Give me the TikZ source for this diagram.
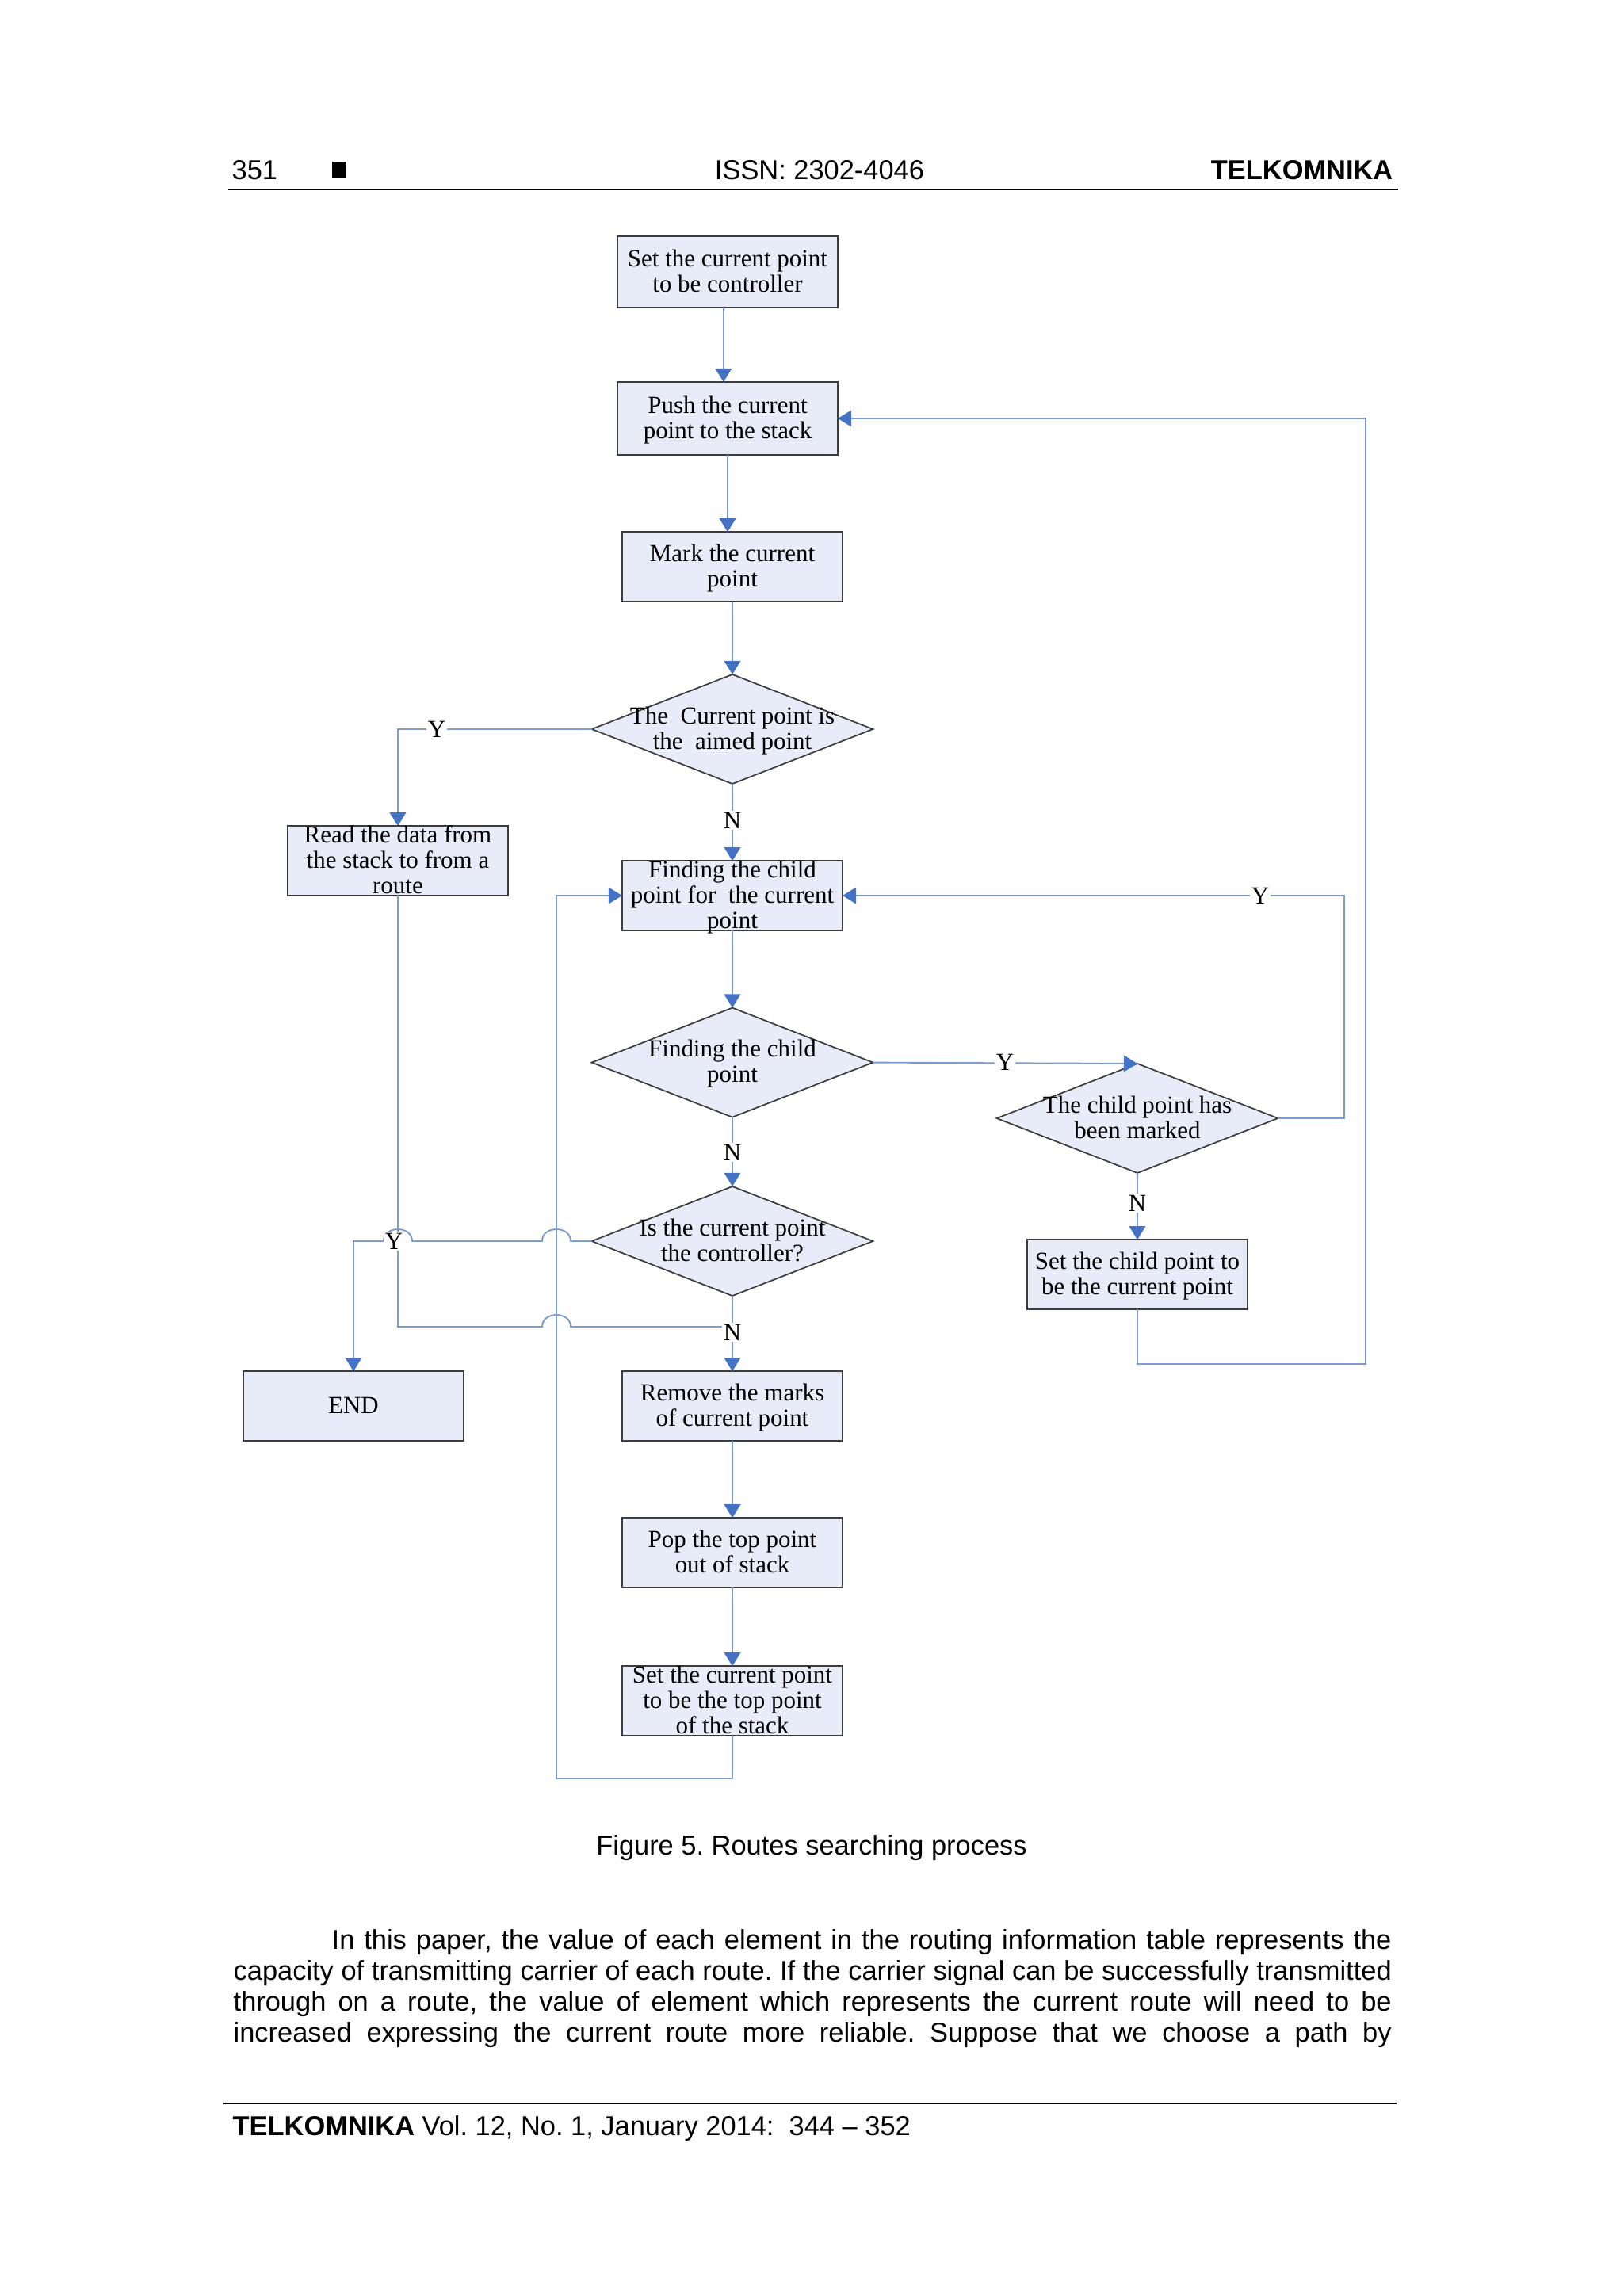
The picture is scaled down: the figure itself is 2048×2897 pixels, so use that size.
\documentclass[tikz,border=0pt]{standalone}
\usepackage{fontspec}
\setmainfont{Liberation Serif}
\newfontfamily\arialf{Liberation Sans}
\usetikzlibrary{shapes.geometric,arrows.meta}
\definecolor{lineblue}{RGB}{122,156,208}
\definecolor{tipblue}{RGB}{68,114,196}
\definecolor{boxfill}{RGB}{232,236,248}
\definecolor{boxdraw}{RGB}{60,60,60}
\newcommand{\ctext}[1]{\smash{\makebox[0pt]{\raisebox{-3.1pt}{\begin{tabular}[c]{@{}c@{}}#1\end{tabular}}}}}
\frenchspacing
\begin{document}
\begin{tikzpicture}[x=0.29053pt,y=-0.29053pt,
  box/.style={rectangle, draw=boxdraw, fill=boxfill, line width=0.6pt, minimum width=80.77pt, minimum height=25.4pt, inner sep=0pt, outer sep=0pt, font=\fontsize{9}{9.3}\selectfont},
  dia/.style={diamond, draw=boxdraw, fill=boxfill, line width=0.5pt, minimum width=103.1pt, minimum height=40.1pt, inner sep=0pt, outer sep=0pt, font=\fontsize{9}{9.3}\selectfont},
  conn/.style={draw=lineblue, line width=0.55pt},
  arr/.style={conn, -{Triangle[width=6pt,length=5pt,color=tipblue]}},
  lab/.style={fill=white, inner sep=0.6pt, font=\fontsize{9}{9.3}\selectfont},
  page/.style={font=\arialf\fontsize{10}{12}\selectfont, inner sep=0pt}
]
\useasboundingbox (0,0) rectangle (2048,2897);

% header
\node[page, anchor=base west] (pg) at (292,227) {351};
\fill (419,204) rectangle (437,224);
\node[page, anchor=base] (issn) at (1034,227) {ISSN: 2302-4046};
\node[page, anchor=base east, font=\arialf\bfseries\fontsize{10}{12}\selectfont] (jtop) at (1758,227) {TELKOMNIKA};
\draw[line width=0.6pt] (288,239) -- (1764,239);

% nodes
\node[box, minimum height=26.4pt] (b1) at (918,343) {\ctext{Set the current point\\to be controller}};
\node[box, minimum height=26.7pt] (b2) at (918,528) {\ctext{Push the current\\point to the stack}};
\node[box] (b3) at (924,715) {\ctext{Mark the current\\point}};
\node[dia] (d1) at (924,920) {\ctext{The\ \ Current point is\\the\ \ aimed point}};
\node[box] (rd) at (502,1086) {\ctext{Read the data from\\the stack to from a\\route}};
\node[box] (b4) at (924,1130) {\ctext{Finding the child\\point for\ \ the current\\point}};
\node[dia] (d2) at (924,1340.6) {\ctext{Finding the child\\point}};
\node[dia] (d3) at (1435,1411) {\ctext{The child point has\\been marked}};
\node[box] (ch) at (1435,1608) {\ctext{Set the child point to\\be the current point}};
\node[dia] (d4) at (924,1566) {\ctext{Is the current point\\the controller?}};
\node[box] (en) at (446,1774) {\ctext{END}};
\node[box] (rm) at (924,1774) {\ctext{Remove the marks\\of current point}};
\node[box] (pp) at (924,1959) {\ctext{Pop the top point\\out of stack}};
\node[box] (st) at (924,2146) {\ctext{Set the current point\\to be the top point\\of the stack}};

% connectors
\draw[arr] ([xshift=-1.5pt]b1.south) -- ([xshift=-1.5pt]b2.north);
\draw[arr] (b2.south) -- (b2.south |- b3.north);
\draw[arr] (b3.south) -- (d1.north);
\draw[arr] (d1.west) -| (rd.north);
\draw[arr] (d1.south) -- (b4.north);
\draw[arr] (b4.south) -- (d2.north);
\draw[arr] (d2.east) -- (d3.north);
\draw[arr] (d3.east) -| (1696,1130) -- (b4.east);
\draw[arr] (d3.south) -- (ch.north);
\draw[arr] (ch.south) |- (1723,1721) |- (b2.east);
\draw[arr] (d2.south) -- (d4.north);
\draw[arr] (d4.west) -- (720,1566) .. controls (720,1546) and (684,1546) .. (684,1566) -- (520,1566) .. controls (520,1546) and (484,1546) .. (484,1566) -| (en.north);
\coordinate (jn) at (924,1674);
\draw[conn] (rd.south) |- (684,1674) .. controls (684,1654) and (720,1654) .. (720,1674) -- (jn);
\draw[arr] (d4.south) -- (rm.north);
\draw[arr] (rm.south) -- (pp.north);
\draw[arr] (pp.south) -- (st.north);
\draw[arr] (st.south) |- (702,2244) |- (b4.west);

% labels
\node[lab] (y1) at (551,920) {Y};
\node[lab] (n1) at (924,1035) {N};
\node[lab] (y2) at (1268,1340.6) {Y};
\node[lab] (y3) at (1590,1130) {Y};
\node[lab] (n2) at (1435,1518) {N};
\node[lab] (n3) at (924,1454) {N};
\node[lab] (y4) at (497,1566) {Y};
\node[lab] (n4) at (924,1681) {N};

% caption and body text
\node[page, anchor=base] (cap) at (1024,2340) {Figure 5. Routes searching process};
\node[page, anchor=base west] (p1) at (418,2459) {\makebox[388.4pt][s]{In this paper, the value of each element in the routing information table represents the}};
\node[page, anchor=base west] (p2) at (294,2498) {\makebox[424.5pt][s]{capacity of transmitting carrier of each route. If the carrier signal can be successfully transmitted}};
\node[page, anchor=base west] (p3) at (294,2537) {\makebox[424.5pt][s]{through on a route, the value of element which represents the current route will need to be}};
\node[page, anchor=base west] (p4) at (294,2576) {\makebox[424.5pt][s]{increased expressing the current route more reliable. Suppose that we choose a path by}};

% footer
\draw[line width=0.8pt] (281,2654) -- (1762,2654);
\node[page, anchor=base west] (ft) at (293,2694) {\textbf{TELKOMNIKA} Vol. 12, No. 1, January 2014:\ \ 344 – 352};
\end{tikzpicture}
\end{document}
